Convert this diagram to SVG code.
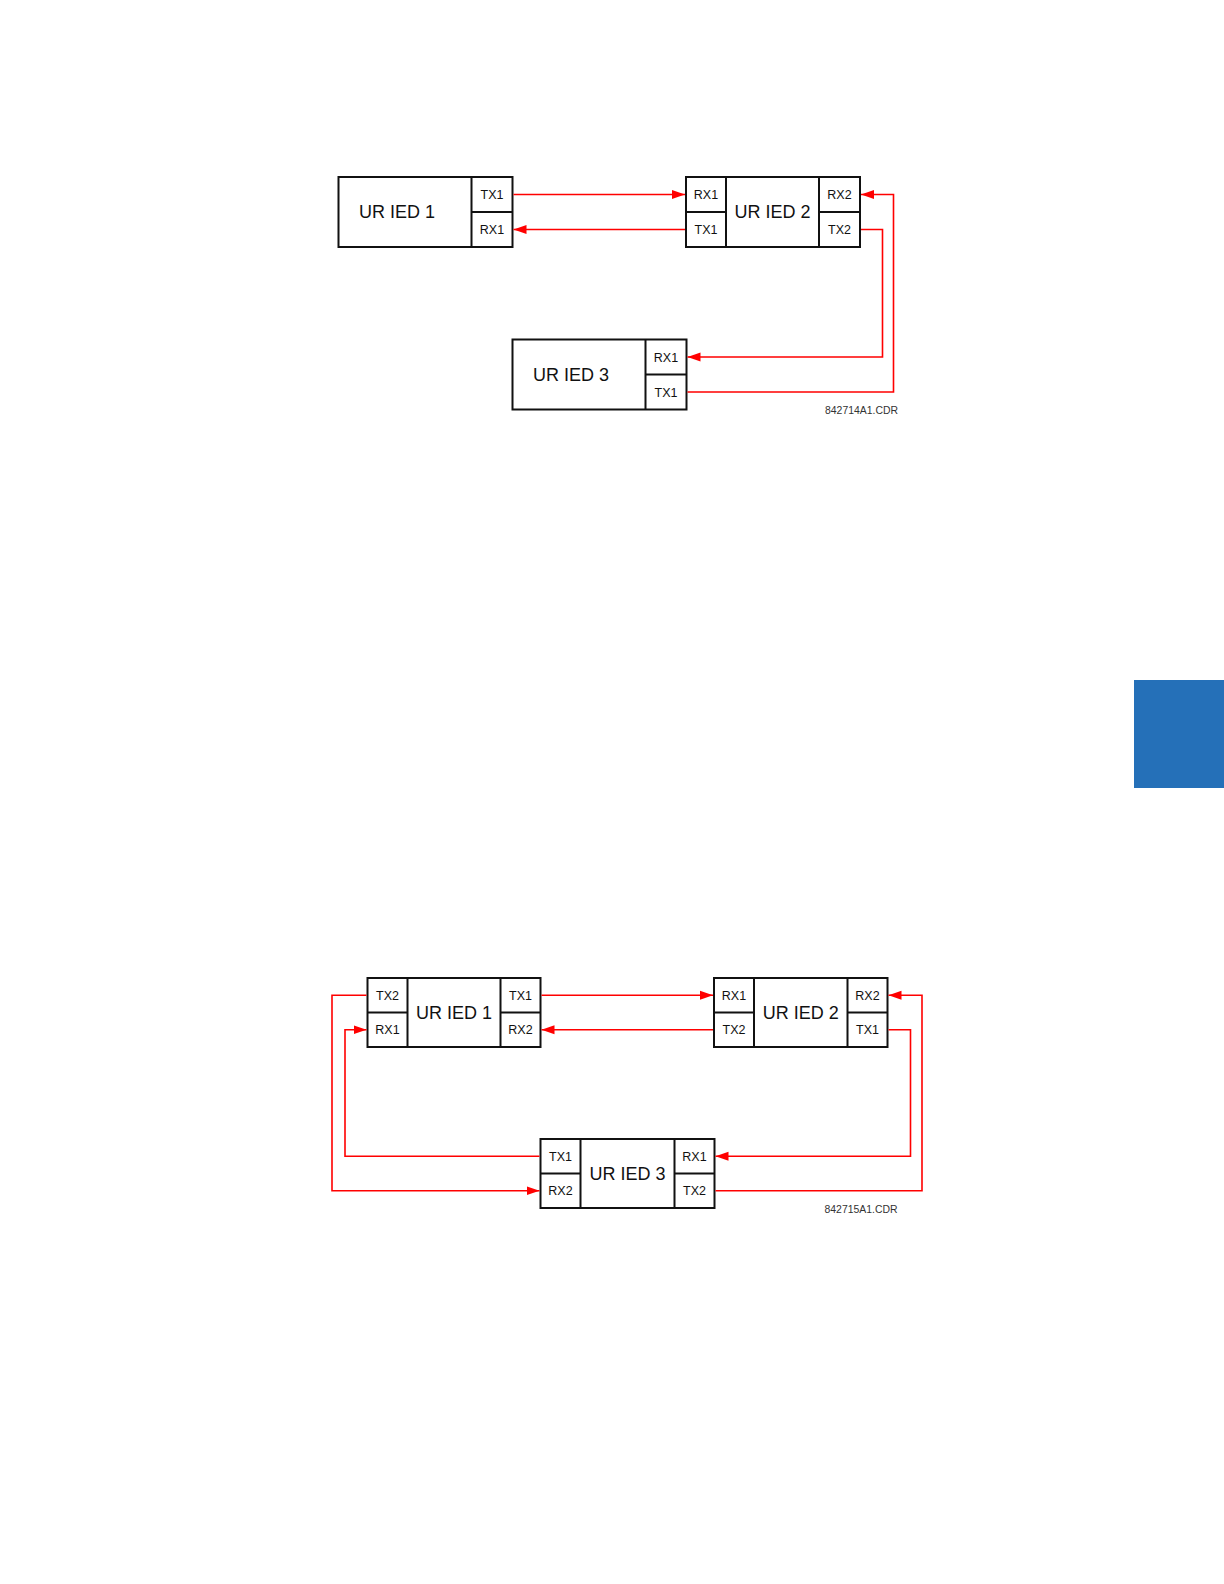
<svg xmlns="http://www.w3.org/2000/svg" width="1224" height="1584" viewBox="0 0 1224 1584">
<defs>
<style>
.box{fill:#fff;stroke:#111;stroke-width:2}
.div{stroke:#111;stroke-width:2;fill:none}
.name{font-family:"Liberation Sans",Arial,sans-serif;font-size:18px;fill:#111}
.port{font-family:"Liberation Sans",Arial,sans-serif;font-size:12.5px;fill:#111;text-anchor:middle}
.cdr{font-family:"Liberation Sans",Arial,sans-serif;font-size:11px;fill:#333}
.wire{fill:none;stroke:#f00;stroke-width:1.6;marker-end:url(#arr)}
</style>
<marker id="arr" markerUnits="userSpaceOnUse" markerWidth="14" markerHeight="10" refX="13" refY="5" orient="auto">
<path d="M0,0.5 L13,5 L0,9.5 Z" fill="#f00"/>
</marker>
</defs>
<rect width="1224" height="1584" fill="#fff"/>
<rect x="1134" y="680" width="90" height="108" fill="#2570b8"/>

<!-- Top diagram -->
<g id="top-ied1">
<rect class="box" x="338.5" y="177" width="174" height="70"/>
<path class="div" d="M471.5,177 V247 M471.5,212 H512.5"/>
<text class="name" x="359" y="218">UR IED 1</text>
<text class="port" x="492" y="199">TX1</text>
<text class="port" x="492" y="234">RX1</text>
</g>
<g id="top-ied2">
<rect class="box" x="686" y="177" width="174" height="70"/>
<path class="div" d="M726,177 V247 M686,212 H726 M819,177 V247 M819,212 H860"/>
<text class="name" x="772.5" y="218" text-anchor="middle">UR IED 2</text>
<text class="port" x="706" y="199">RX1</text>
<text class="port" x="706" y="234">TX1</text>
<text class="port" x="839.5" y="199">RX2</text>
<text class="port" x="839.5" y="234">TX2</text>
</g>
<g id="top-ied3">
<rect class="box" x="512.5" y="339.5" width="174" height="70"/>
<path class="div" d="M645.5,339.5 V409.5 M645.5,374.5 H686.5"/>
<text class="name" x="533" y="380.5">UR IED 3</text>
<text class="port" x="666" y="361.5">RX1</text>
<text class="port" x="666" y="396.5">TX1</text>
</g>
<text class="cdr" x="825" y="414" textLength="73" lengthAdjust="spacingAndGlyphs">842714A1.CDR</text>

<!-- Bottom diagram -->
<g id="bot-ied1">
<rect class="box" x="367.5" y="978" width="173" height="69"/>
<path class="div" d="M407.5,978 V1047 M367.5,1012.5 H407.5 M500.5,978 V1047 M500.5,1012.5 H540.5"/>
<text class="name" x="454" y="1018.5" text-anchor="middle">UR IED 1</text>
<text class="port" x="387.5" y="999.5">TX2</text>
<text class="port" x="387.5" y="1034">RX1</text>
<text class="port" x="520.5" y="999.5">TX1</text>
<text class="port" x="520.5" y="1034">RX2</text>
</g>
<g id="bot-ied2">
<rect class="box" x="714" y="978" width="173.5" height="69"/>
<path class="div" d="M754,978 V1047 M714,1012.5 H754 M847.5,978 V1047 M847.5,1012.5 H887.5"/>
<text class="name" x="800.75" y="1018.5" text-anchor="middle">UR IED 2</text>
<text class="port" x="734" y="999.5">RX1</text>
<text class="port" x="734" y="1034">TX2</text>
<text class="port" x="867.5" y="999.5">RX2</text>
<text class="port" x="867.5" y="1034">TX1</text>
</g>
<g id="bot-ied3">
<rect class="box" x="540.5" y="1139" width="174" height="69"/>
<path class="div" d="M580.5,1139 V1208 M540.5,1173.5 H580.5 M674.5,1139 V1208 M674.5,1173.5 H714.5"/>
<text class="name" x="627.5" y="1180" text-anchor="middle">UR IED 3</text>
<text class="port" x="560.5" y="1160.5">TX1</text>
<text class="port" x="560.5" y="1195">RX2</text>
<text class="port" x="694.5" y="1160.5">RX1</text>
<text class="port" x="694.5" y="1195">TX2</text>
</g>
<text class="cdr" x="824.5" y="1213" textLength="73" lengthAdjust="spacingAndGlyphs">842715A1.CDR</text>

<g id="connectors">
<path class="wire" d="M513.5,194.5 H685"/>
<path class="wire" d="M685,229.5 H513.5"/>
<path class="wire" d="M861,229.5 H882.5 V357 H687.5"/>
<path class="wire" d="M687.5,392 H893.5 V194.5 H861"/>

<path class="wire" d="M541.5,995.25 H713"/>
<path class="wire" d="M713,1029.75 H541.5"/>
<path class="wire" d="M888.5,1029.75 H910.5 V1156.25 H715.5"/>
<path class="wire" d="M715.5,1190.75 H922 V995.25 H888.5"/>
<path class="wire" d="M539.5,1156.25 H345 V1029.75 H366.5"/>
<path class="wire" d="M366.5,995.25 H332 V1190.75 H539.5"/>
</g>
</svg>
